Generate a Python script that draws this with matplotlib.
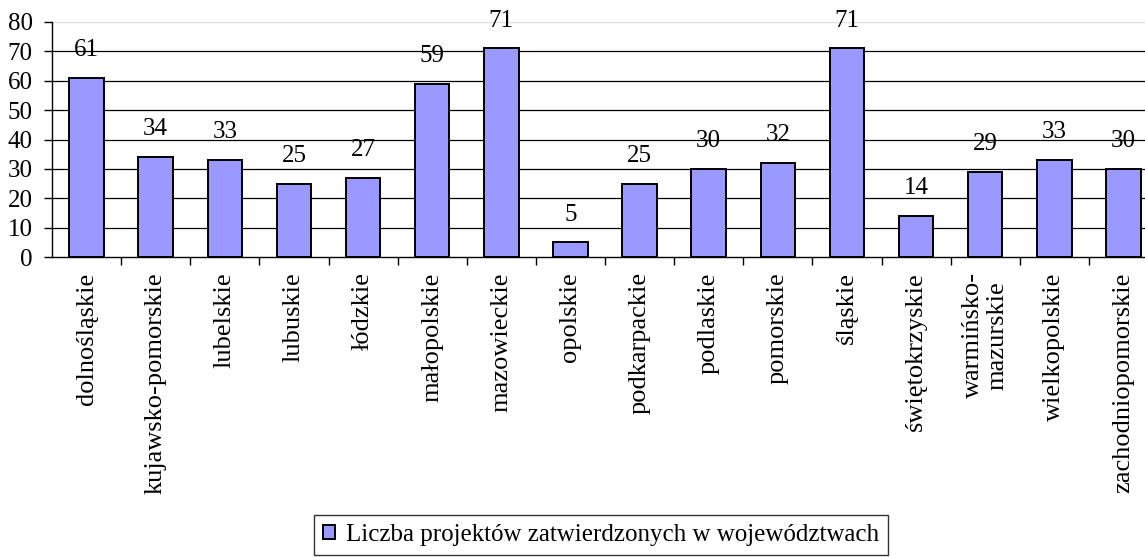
import matplotlib.pyplot as plt
import numpy as np

plt.rcParams['font.family'] = ['Liberation Serif', 'DejaVu Serif']

regions = ["dolnośląskie", "kujawsko-pomorskie", "lubelskie", "lubuskie", "łódzkie",
           "małopolskie", "mazowieckie", "opolskie", "podkarpackie", "podlaskie",
           "pomorskie", "śląskie", "świętokrzyskie", "warmińsko-\nmazurskie",
           "wielkopolskie", "zachodniopomorskie"]
projects = [61, 34, 33, 25, 27, 59, 71, 5, 25, 30, 32, 71, 14, 29, 33, 30]
series_name = "Liczba projektów zatwierdzonych w województwach"
yticks = [0, 10, 20, 30, 40, 50, 60, 70, 80]

W, H = 1145, 557
fig = plt.figure(figsize=(W / 100, H / 100), dpi=100)
# plot area runs a bit past the right edge of the picture, as in the original
ax = fig.add_axes([52 / W, 1 - 257 / H, (1158 - 52) / W, (257 - 22) / H])

x = np.arange(len(regions))
bars = ax.bar(x, projects, width=0.5, color='#9999FF', edgecolor='black',
              linewidth=1.4, zorder=3, label=series_name)

# value labels above bars
for xi, v in zip(x, projects):
    ax.annotate(str(v), (xi, v), xytext=(0, 12), textcoords='offset points',
                ha='center', va='bottom', fontsize=18, zorder=4)

ax.set_xlim(-0.5, len(regions) - 0.5)
ax.set_ylim(0, 80)
ax.set_yticks(yticks)
ax.tick_params(axis='y', labelsize=18, length=6, width=1, direction='out', pad=8)

# category labels centred, ticks between categories
ax.set_xticks(x)
ax.set_xticklabels(regions, rotation=90, fontsize=19, ha='center', va='top',
                   multialignment='center')
ax.tick_params(axis='x', which='major', length=0, pad=11)
ax.set_xticks(np.arange(0.5, len(regions) - 0.5, 1), minor=True)
ax.tick_params(axis='x', which='minor', length=6, width=1, direction='out')

for y in yticks[1:-1]:
    ax.axhline(y, color='black', linewidth=0.9, zorder=1)
ax.axhline(80, color='#e0e0e0', linewidth=1, zorder=1)

ax.spines['top'].set_visible(False)
ax.spines['right'].set_visible(False)
ax.spines['left'].set_linewidth(1)
ax.spines['bottom'].set_linewidth(1)

leg = fig.legend(handles=[bars], labels=[series_name], loc='upper left',
                 bbox_to_anchor=(314 / W, 1 - 515 / H), fontsize=18,
                 frameon=True, fancybox=False, shadow=False,
                 handlelength=0.5, handleheight=0.5, handletextpad=0.45,
                 borderpad=0.35, borderaxespad=0)
leg.get_frame().set_edgecolor('black')
leg.get_frame().set_linewidth(1)

fig.savefig('out.png', dpi=100)
